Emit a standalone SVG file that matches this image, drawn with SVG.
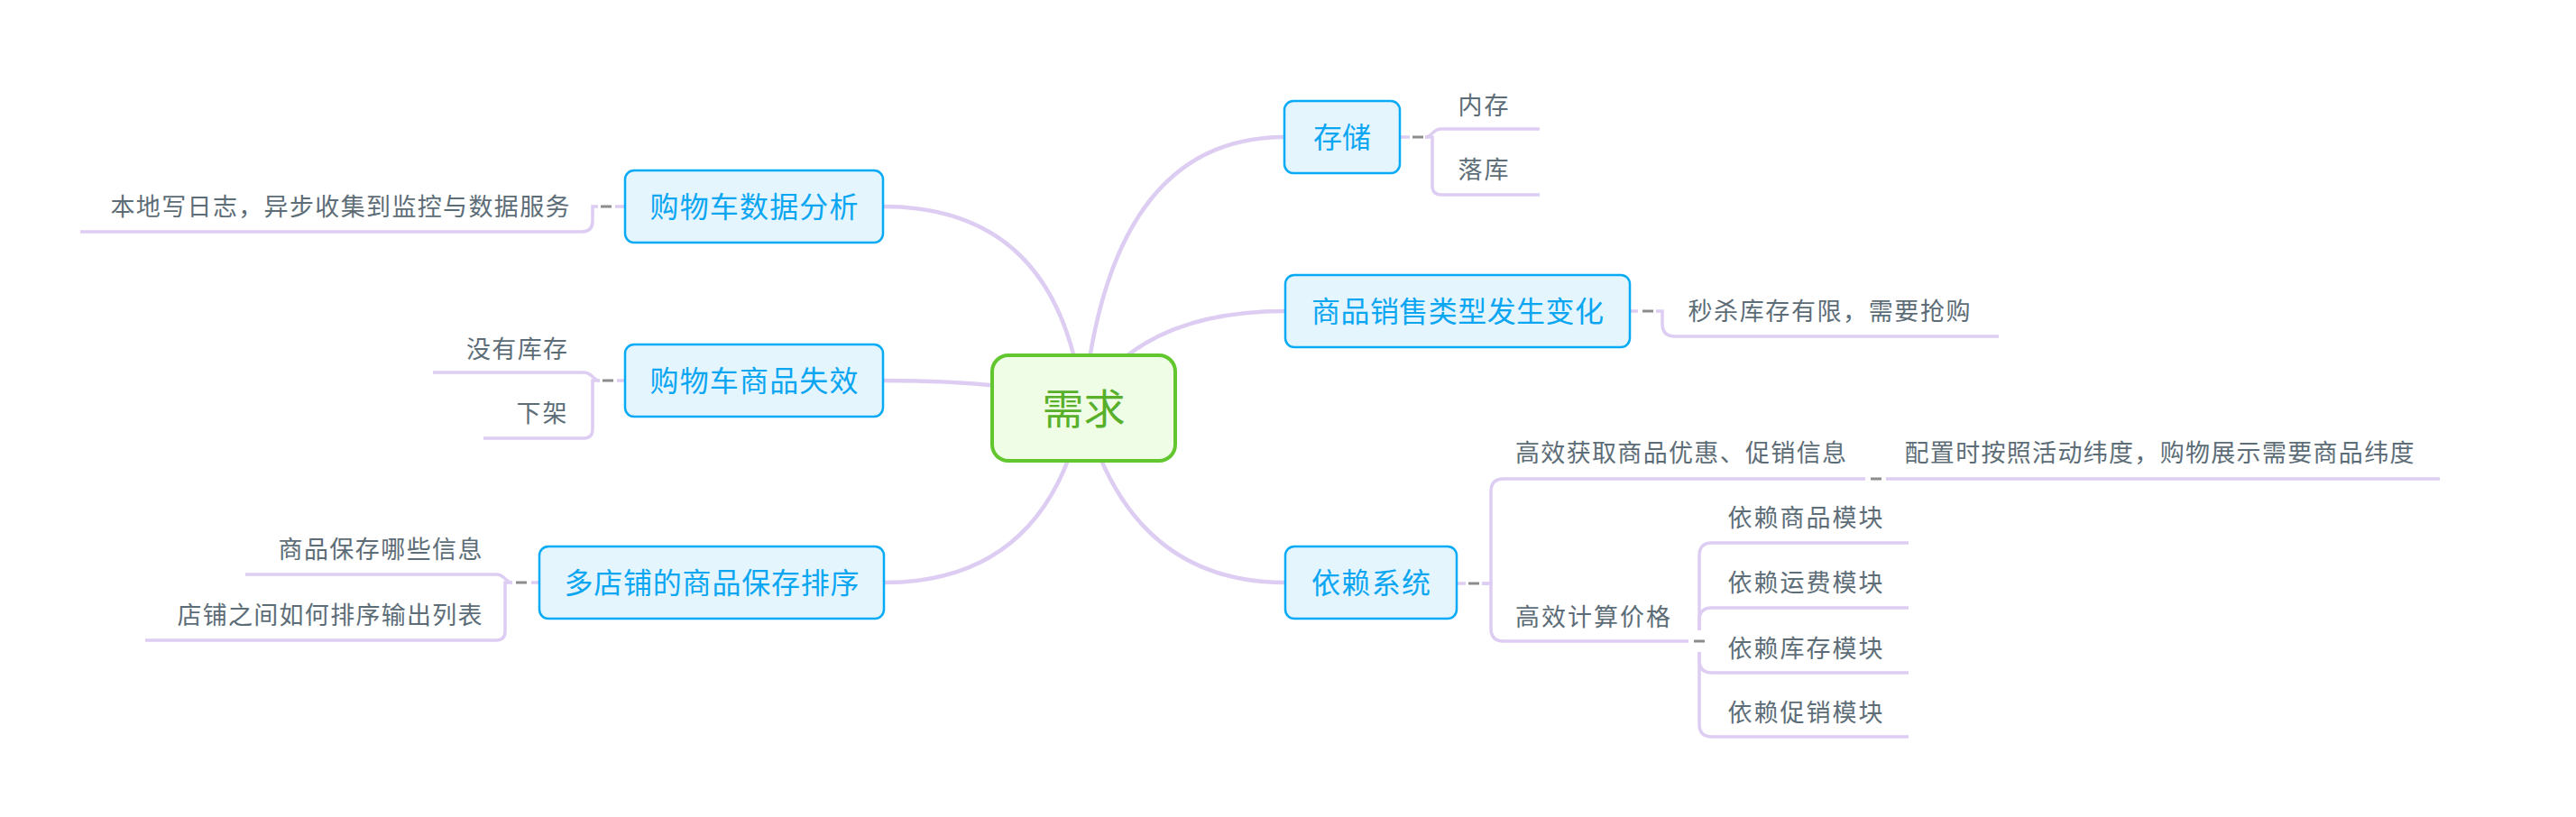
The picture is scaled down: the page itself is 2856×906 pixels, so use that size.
<svg xmlns="http://www.w3.org/2000/svg" width="2856" height="906" viewBox="0 0 2856 906">
<style>
.bg{fill:#ffffff}
.curve{fill:none;stroke:#ddcdf2;stroke-width:4.5;stroke-linecap:round}
.line{fill:none;stroke:#ddcdf2;stroke-width:3.5}
.dash{stroke:#8c8c8c;stroke-width:3}
.node rect{fill:#e4f5fe;stroke:#06aaf5;stroke-width:2.5}
.node text{font-family:"Noto Sans CJK SC","Noto Sans",sans-serif;font-size:32px;fill:#0aa6f2;text-anchor:middle}
.sub text{font-family:"Noto Sans CJK SC","Noto Sans",sans-serif;font-size:27px;fill:#5d6d77}
#root rect{fill:#effde6;stroke:#62c72e;stroke-width:4}
#root text{font-family:"Noto Sans CJK SC","Noto Sans",sans-serif;font-size:46px;fill:#58b02a;text-anchor:middle}
</style>
<rect class="bg" x="0" y="0" width="2856" height="906"/>
<g id="connectors">
  <path class="curve" d="M1201,452 Q1230,152 1424,152"/>
  <path class="curve" d="M1201,452 Q1260,345 1425,345"/>
  <path class="curve" d="M1201,452 Q1252,646 1425,646"/>
  <path class="curve" d="M1201,452 Q1175,229 979,229"/>
  <path class="curve" d="M1201,452 Q1150,422 979,422"/>
  <path class="curve" d="M1201,452 Q1161,646 980,646"/>
  <!-- 存储 -->
  <path class="line" d="M1553,152 H1563"/>
  <line class="dash" x1="1566" y1="152" x2="1578" y2="152"/>
  <path class="line" d="M1580,152 C1588,152 1588,143 1598,143 H1707"/>
  <path class="line" d="M1580,152 H1588 V206 Q1588,216 1598,216 H1707"/>
  <!-- 商品销售类型发生变化 -->
  <path class="line" d="M1808,345 H1816"/>
  <line class="dash" x1="1821" y1="345" x2="1833" y2="345"/>
  <path class="line" d="M1836,345 H1843 V359 Q1843,373 1857,373 H2216"/>
  <!-- 依赖系统 -->
  <path class="line" d="M1616,647 H1625"/>
  <line class="dash" x1="1628" y1="647" x2="1640" y2="647"/>
  <path class="line" d="M1643,647 H1653 V545 Q1653,531 1667,531 H2068"/>
  <path class="line" d="M1643,647 H1653 V697 Q1653,711 1667,711 H1872"/>
  <line class="dash" x1="2074" y1="531" x2="2086" y2="531"/>
  <path class="line" d="M2091,531 H2705"/>
  <line class="dash" x1="1878" y1="711" x2="1890" y2="711"/>
  <path class="line" d="M1884,699 V616 Q1884,602 1898,602 H2116"/>
  <path class="line" d="M1884,699 V688 Q1884,674 1898,674 H2116"/>
  <path class="line" d="M1884,723 V732 Q1884,746 1898,746 H2116"/>
  <path class="line" d="M1884,723 V803 Q1884,817 1898,817 H2116"/>
  <!-- 购物车数据分析 -->
  <path class="line" d="M692,229 H682"/>
  <line class="dash" x1="666" y1="229" x2="678" y2="229"/>
  <path class="line" d="M663,229 H657 V245 Q657,257 645,257 H89"/>
  <!-- 购物车商品失效 -->
  <path class="line" d="M692,422 H684"/>
  <line class="dash" x1="668" y1="422" x2="680" y2="422"/>
  <path class="line" d="M665,422 C657,422 657,413 647,413 H480"/>
  <path class="line" d="M665,422 H657 V476 Q657,486 647,486 H536"/>
  <!-- 多店铺的商品保存排序 -->
  <path class="line" d="M597,646 H589"/>
  <line class="dash" x1="572" y1="646" x2="584" y2="646"/>
  <path class="line" d="M568,646 C560,646 560,637 550,637 H272"/>
  <path class="line" d="M568,646 H560 V700 Q560,710 550,710 H161"/>
</g>
<g id="root">
  <rect x="1100" y="394" width="203" height="117" rx="18"/>
  <text x="1201.5" y="470">需求</text>
</g>
<g id="n-storage" class="node">
  <rect x="1424" y="112" width="128" height="80" rx="10"/>
  <text x="1488" y="164" textLength="64" lengthAdjust="spacing">存储</text>
</g>
<g id="n-sales" class="node">
  <rect x="1425" y="305" width="382" height="80" rx="10"/>
  <text x="1616" y="357" textLength="324" lengthAdjust="spacing">商品销售类型发生变化</text>
</g>
<g id="n-depend" class="node">
  <rect x="1425" y="606" width="190" height="80" rx="10"/>
  <text x="1520" y="658" textLength="132" lengthAdjust="spacing">依赖系统</text>
</g>
<g id="n-analysis" class="node">
  <rect x="693" y="189" width="286" height="80" rx="10"/>
  <text x="836" y="241" textLength="231" lengthAdjust="spacing">购物车数据分析</text>
</g>
<g id="n-invalid" class="node">
  <rect x="693" y="382" width="286" height="80" rx="10"/>
  <text x="836" y="434" textLength="231" lengthAdjust="spacing">购物车商品失效</text>
</g>
<g id="n-multishop" class="node">
  <rect x="598" y="606" width="382" height="80" rx="10"/>
  <text x="789" y="658" textLength="327" lengthAdjust="spacing">多店铺的商品保存排序</text>
</g>
<g id="s-memory" class="sub"><text x="1616.5" y="127" textLength="56" lengthAdjust="spacing">内存</text></g>
<g id="s-db" class="sub"><text x="1616.5" y="198" textLength="56" lengthAdjust="spacing">落库</text></g>
<g id="s-seckill" class="sub"><text x="1871.5" y="355" textLength="313" lengthAdjust="spacing">秒杀库存有限，需要抢购</text></g>
<g id="s-promo" class="sub"><text x="1680" y="512" textLength="367" lengthAdjust="spacing">高效获取商品优惠、促销信息</text></g>
<g id="s-config" class="sub"><text x="2111.5" y="512" textLength="565" lengthAdjust="spacing">配置时按照活动纬度，购物展示需要商品纬度</text></g>
<g id="s-price" class="sub"><text x="1680" y="694" textLength="172" lengthAdjust="spacing">高效计算价格</text></g>
<g id="s-goods" class="sub"><text x="1915.5" y="584" textLength="172" lengthAdjust="spacing">依赖商品模块</text></g>
<g id="s-freight" class="sub"><text x="1915.5" y="656" textLength="172" lengthAdjust="spacing">依赖运费模块</text></g>
<g id="s-stock" class="sub"><text x="1915.5" y="729" textLength="172" lengthAdjust="spacing">依赖库存模块</text></g>
<g id="s-promomod" class="sub"><text x="1915.5" y="800" textLength="172" lengthAdjust="spacing">依赖促销模块</text></g>
<g id="s-log" class="sub"><text x="122.5" y="239" textLength="509" lengthAdjust="spacing">本地写日志，异步收集到监控与数据服务</text></g>
<g id="s-nostock" class="sub"><text x="517" y="397" textLength="112" lengthAdjust="spacing">没有库存</text></g>
<g id="s-offshelf" class="sub"><text x="572.5" y="468" textLength="56" lengthAdjust="spacing">下架</text></g>
<g id="s-info" class="sub"><text x="308.5" y="619" textLength="226" lengthAdjust="spacing">商品保存哪些信息</text></g>
<g id="s-sort" class="sub"><text x="196.5" y="692" textLength="338" lengthAdjust="spacing">店铺之间如何排序输出列表</text></g>
</svg>
